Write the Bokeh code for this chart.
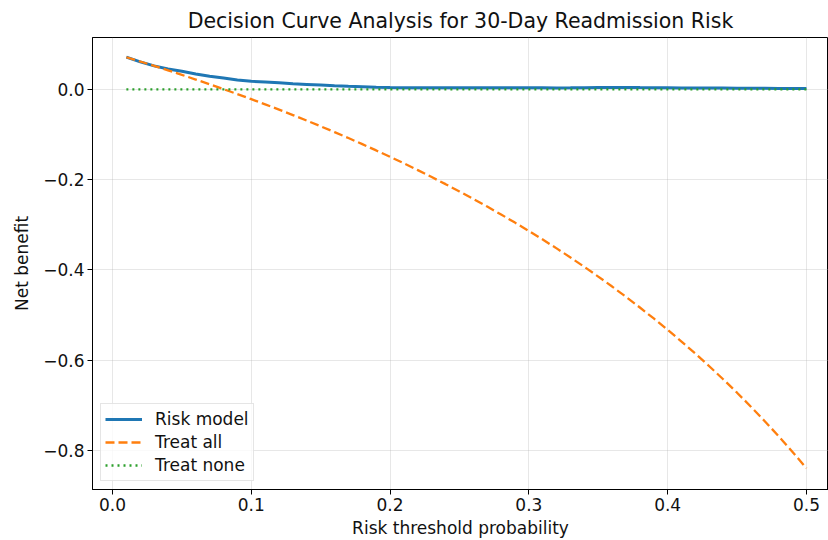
from bokeh.plotting import figure
from bokeh.models import Range1d, Legend, LegendItem, FixedTicker
from bokeh.embed import file_html
from bokeh.resources import INLINE

thresholds = [0.01, 0.02, 0.03, 0.04, 0.05, 0.06, 0.07, 0.08, 0.09, 0.10,
              0.11, 0.12, 0.13, 0.14, 0.15, 0.16, 0.17, 0.18, 0.19, 0.20,
              0.21, 0.22, 0.23, 0.24, 0.25, 0.26, 0.27, 0.28, 0.29, 0.30,
              0.31, 0.32, 0.33, 0.34, 0.35, 0.36, 0.37, 0.38, 0.39, 0.40,
              0.41, 0.42, 0.43, 0.44, 0.45, 0.46, 0.47, 0.48, 0.49, 0.50]

risk_model = [0.0715, 0.061, 0.052, 0.045, 0.040, 0.034, 0.029, 0.025, 0.021, 0.018,
              0.0165, 0.0145, 0.0125, 0.011, 0.0095, 0.008, 0.0068, 0.0058, 0.0048, 0.004,
              0.0036, 0.0035, 0.0035, 0.0035, 0.0035, 0.0035, 0.0035, 0.0035, 0.0035, 0.0035,
              0.0034, 0.0033, 0.0035, 0.0038, 0.0042, 0.0043, 0.0043, 0.004, 0.0038, 0.0035,
              0.003, 0.003, 0.003, 0.0028, 0.0026, 0.0025, 0.0024, 0.0022, 0.0021, 0.002]

treat_all = [0.0712, 0.0617, 0.0521, 0.0422, 0.0321, 0.0218, 0.0113, 0.0005, -0.0104, -0.0217,
             -0.0331, -0.0449, -0.0569, -0.0692, -0.0818, -0.0946, -0.1078, -0.1213, -0.1352, -0.1494,
             -0.1639, -0.1788, -0.1942, -0.2099, -0.2260, -0.2426, -0.2596, -0.2771, -0.2951, -0.3136,
             -0.3326, -0.3522, -0.3724, -0.3932, -0.4146, -0.4367, -0.4595, -0.4831, -0.5074, -0.5325,
             -0.5585, -0.5853, -0.6132, -0.6420, -0.6718, -0.7028, -0.7349, -0.7683, -0.8029, -0.8390]

treat_none = [0.0] * len(thresholds)

x_ticks = [0.0, 0.1, 0.2, 0.3, 0.4, 0.5]
x_tick_labels = ["0.0", "0.1", "0.2", "0.3", "0.4", "0.5"]
y_ticks = [-0.8, -0.6, -0.4, -0.2, 0.0]
y_tick_labels = ["\u22120.8", "\u22120.6", "\u22120.4", "\u22120.2", "0.0"]

FONT = "DejaVu Sans"

p = figure(width=828, height=540, output_backend="svg", toolbar_location=None,
           x_range=Range1d(-0.0144, 0.5159), y_range=Range1d(-0.8862, 0.1149),
           min_border_left=92, min_border_right=0, min_border_top=37, min_border_bottom=50,
           title="Decision Curve Analysis for 30-Day Readmission Risk")

p.title.align = "center"
p.title.text_font = FONT
p.title.text_font_size = "20.5px"
p.title.text_font_style = "normal"
p.title.text_color = "#111111"

p.outline_line_color = "black"
p.outline_line_width = 1

for ax in (p.xaxis[0], p.yaxis[0]):
    ax.axis_line_color = "black"
    ax.major_tick_line_color = "black"
    ax.major_tick_out = 5
    ax.major_tick_in = 0
    ax.minor_tick_line_color = None
    ax.major_label_text_font = FONT
    ax.major_label_text_font_size = "17px"
    ax.major_label_text_color = "#111111"
    ax.major_label_standoff = 3
    ax.axis_label_text_font = FONT
    ax.axis_label_text_font_size = "17px"
    ax.axis_label_text_font_style = "normal"
    ax.axis_label_text_color = "#111111"

p.xaxis.ticker = FixedTicker(ticks=x_ticks)
p.xaxis.major_label_overrides = dict(zip(x_ticks, x_tick_labels))
p.yaxis.ticker = FixedTicker(ticks=y_ticks)
p.yaxis.major_label_overrides = dict(zip(y_ticks, y_tick_labels))
p.xaxis.axis_label = "Risk threshold probability"
p.yaxis.axis_label = "Net benefit"
p.xaxis.axis_label_standoff = 4
p.yaxis.axis_label_standoff = 8

p.grid.grid_line_color = "#b0b0b0"
p.grid.grid_line_alpha = 0.3
p.grid.grid_line_width = 1

r1 = p.line(thresholds, risk_model, line_color="#1f77b4", line_width=3)
r2 = p.line(thresholds, treat_all, line_color="#ff7f0e", line_width=2.3, line_dash="9 4")
r3 = p.line(thresholds, treat_none, line_color="#2ca02c", line_width=2.3, line_dash="2 4")

legend = Legend(items=[LegendItem(label="Risk model", renderers=[r1]),
                       LegendItem(label="Treat all", renderers=[r2]),
                       LegendItem(label="Treat none", renderers=[r3])],
                location=(8, 8))
legend.label_text_font = FONT
legend.label_text_font_size = "17px"
legend.label_text_color = "#111111"
legend.glyph_width = 37
legend.glyph_height = 22
legend.label_height = 22
legend.label_standoff = 13
legend.spacing = 1
legend.padding = 4
legend.margin = 0
legend.border_line_color = "#cccccc"
legend.border_line_width = 1
legend.background_fill_alpha = 0.8
p.add_layout(legend, "center")

open("out.html", "w").write(file_html(p, INLINE))
